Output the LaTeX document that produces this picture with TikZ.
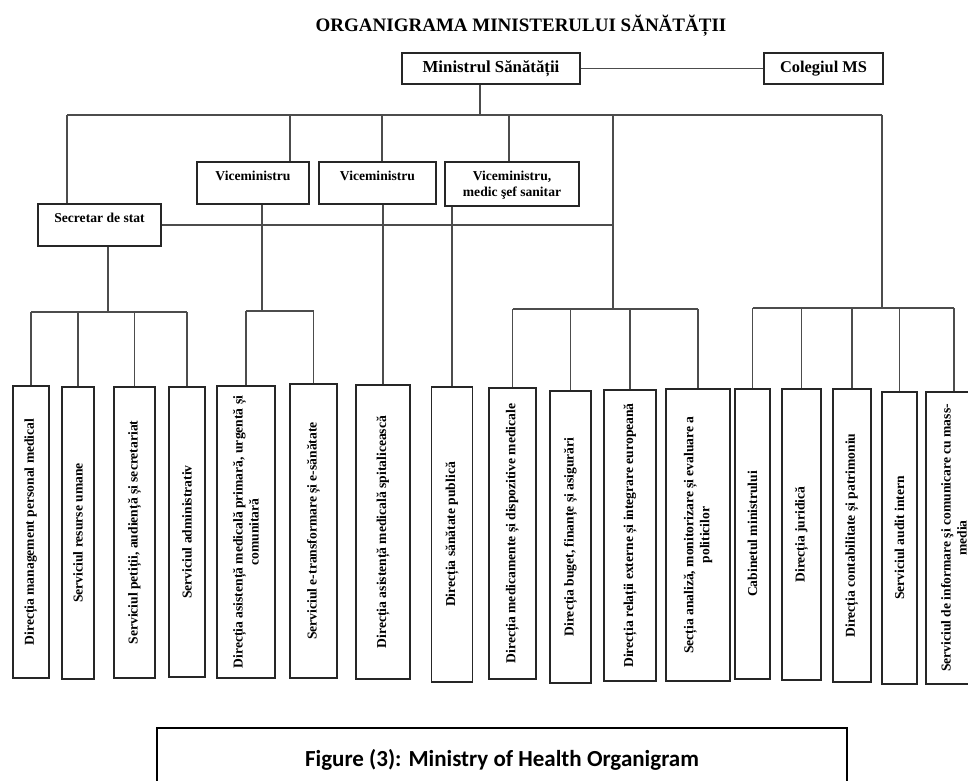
\documentclass[tikz,border=0pt]{standalone}
\usepackage{fontspec}
\setmainfont{Liberation Serif}
\newfontfamily\capfont{Carlito}
\usetikzlibrary{positioning}

\begin{document}
\begin{tikzpicture}[x=1pt,y=-1pt,
  every node/.style={font=\bfseries\fontsize{13.6}{16}\selectfont},
  unit/.style={draw=black!85,line width=1.4pt,inner sep=0pt,align=center},
  head/.style={unit,minimum height=42pt},
  hd/.style={anchor=north,inner sep=0pt,yshift=-10pt,align=center},
  vbox/.style={unit,rotate=90},
  link/.style={draw=black!70,line width=1.5pt}]
  \useasboundingbox (0,0) rectangle (968,780);

  \node (title) at (521,26) {\fontsize{19}{21}\selectfont ORGANIGRAMA MINISTERULUI SĂNĂTĂȚII};

  % conducerea
  \node[unit,minimum width=178pt,minimum height=31pt] (min) at (491,68.5)
    {\fontsize{16.8}{18}\selectfont Ministrul Sănătății};
  \node[unit,minimum width=119pt,minimum height=31pt] (col) at (823.5,68.5)
    {\fontsize{16.4}{18}\selectfont Colegiul MS};
  \node[head,minimum width=123pt] (sec) at (99.5,225) [label={[hd]north:Secretar de stat}] {};
  \node[head,minimum width=112pt] (vice1) at (253,183) [label={[hd]north:Viceministru}] {};
  \node[head,minimum width=117pt] (vice2) at (377.5,183) [label={[hd]north:Viceministru}] {};
  \node[head,minimum width=134pt,minimum height=44pt] (vice3) at (512,184)
    [label={[hd]north:Viceministru,\\medic şef sanitar}] {};

  % subdiviziuni (rotite: .east = latura de sus)
  \node[vbox,minimum width=292pt,minimum height=36pt] (b1) at (31,532) {Direcția  management  personal  medical};
  \node[vbox,minimum width=292pt,minimum height=32pt] (b2) at (78,533) {Serviciul resurse  umane};
  \node[vbox,minimum width=291pt,minimum height=41pt] (b3) at (134.5,532.5) {Serviciul petiții, audiență și secretariat};
  \node[vbox,minimum width=290pt,minimum height=36pt] (b4) at (187,532) {Serviciul  administrativ};
  \node[vbox,minimum width=292pt,minimum height=58pt] (b5) at (246,532) {Direcția  asistență  medicală  primară,  urgentă  și\\comunitară};
  \node[vbox,minimum width=294pt,minimum height=47pt] (b6) at (313.5,531) {Serviciul e-transformare și e-sănătate};
  \node[vbox,minimum width=294pt,minimum height=54pt] (b7) at (383,532) {Direcția  asistență  medicală  spitalicească};
  \node[vbox,minimum width=295pt,minimum height=41pt] (b8) at (452,534.5) {Direcția  sănătate publică};
  \node[vbox,minimum width=291pt,minimum height=47pt] (b9) at (512.5,533.5) {Direcția medicamente și dispozitive medicale};
  \node[vbox,minimum width=292pt,minimum height=41pt] (b10) at (570.5,537) {Direcția buget, finanțe  și asigurări};
  \node[vbox,minimum width=291pt,minimum height=52pt] (b11) at (630,535.5) {Direcția relații externe și integrare europeană};
  \node[vbox,minimum width=292pt,minimum height=64pt] (b12) at (698,535) {Secția analiză,  monitorizare și evaluare a\\politicilor};
  \node[vbox,minimum width=290pt,minimum height=35pt] (b13) at (752.5,534) {Cabinetul  ministrului};
  \node[vbox,minimum width=291pt,minimum height=39pt] (b14) at (801.5,534.5) {Direcția  juridică};
  \node[vbox,minimum width=293pt,minimum height=38pt] (b15) at (852,535.5) {Direcția contabilitate și patrimoniu};
  \node[vbox,minimum width=292pt,minimum height=35pt] (b16) at (899.5,538) {Serviciul audit intern};
  \node[vbox,minimum width=292pt,minimum height=56pt] (b17) at (954,538) {Serviciul  de informare şi comunicare cu mass-\\media};

  % magistrale
  \coordinate (t0) at (480,115);
  \coordinate (t1) at (67,115);
  \coordinate (t2) at (290,115);
  \coordinate (t3) at (382,115);
  \coordinate (t4) at (509,115);
  \coordinate (t5) at (613,115);
  \coordinate (t6) at (882,115);
  \coordinate (g1) at (108,312);
  \coordinate (g2) at (262,311);
  \coordinate (g3) at (613,309);
  \coordinate (g4) at (882,308);

  \path[link]
    (min) -- (col)
    (t0 |- min.south) -- (t0)
    (t1) -- (t6)
    (t1) -- (t1 |- sec.north)
    (t2) -- (t2 |- vice1.north)
    (t3) -- (t3 |- vice2.north)
    (t4) -- (t4 |- vice3.north)
    (t5) -- (g3)
    (t6) -- (g4)
    (sec) -- (sec -| t5)
    (g1 |- sec.south) -- (g1)
    (g2 |- vice1.south) -- (g2)
    (b7.east |- vice2.south) -- (b7.east)
    (b8.east |- vice3.south) -- (b8.east);

  % grupa 1
  \path[link] (b1.east |- g1) -- (b4.east |- g1)
    (b1.east) -- (b1.east |- g1)
    (b2.east) -- (b2.east |- g1)
    (b3.east) -- (b3.east |- g1)
    (b4.east) -- (b4.east |- g1);
  % grupa 2
  \path[link] (b5.east |- g2) -- (b6.east |- g2)
    (b5.east) -- (b5.east |- g2)
    (b6.east) -- (b6.east |- g2);
  % grupa 3
  \path[link] (b9.east |- g3) -- (b12.east |- g3)
    (b9.east) -- (b9.east |- g3)
    (b10.east) -- (b10.east |- g3)
    (b11.east) -- (b11.east |- g3)
    (b12.east) -- (b12.east |- g3);
  % grupa 4
  \path[link] (b13.east |- g4) -- (b17.east |- g4)
    (b13.east) -- (b13.east |- g4)
    (b14.east) -- (b14.east |- g4)
    (b15.east) -- (b15.east |- g4)
    (b16.east) -- (b16.east |- g4)
    (b17.east) -- (b17.east |- g4);

  \node[draw,line width=2pt,minimum width=690pt,minimum height=64pt,
    font=\capfont\bfseries\fontsize{23}{26}\selectfont] (cap) at (502,760)
    {Figure (3): Ministry of Health Organigram};
\end{tikzpicture}
\end{document}
